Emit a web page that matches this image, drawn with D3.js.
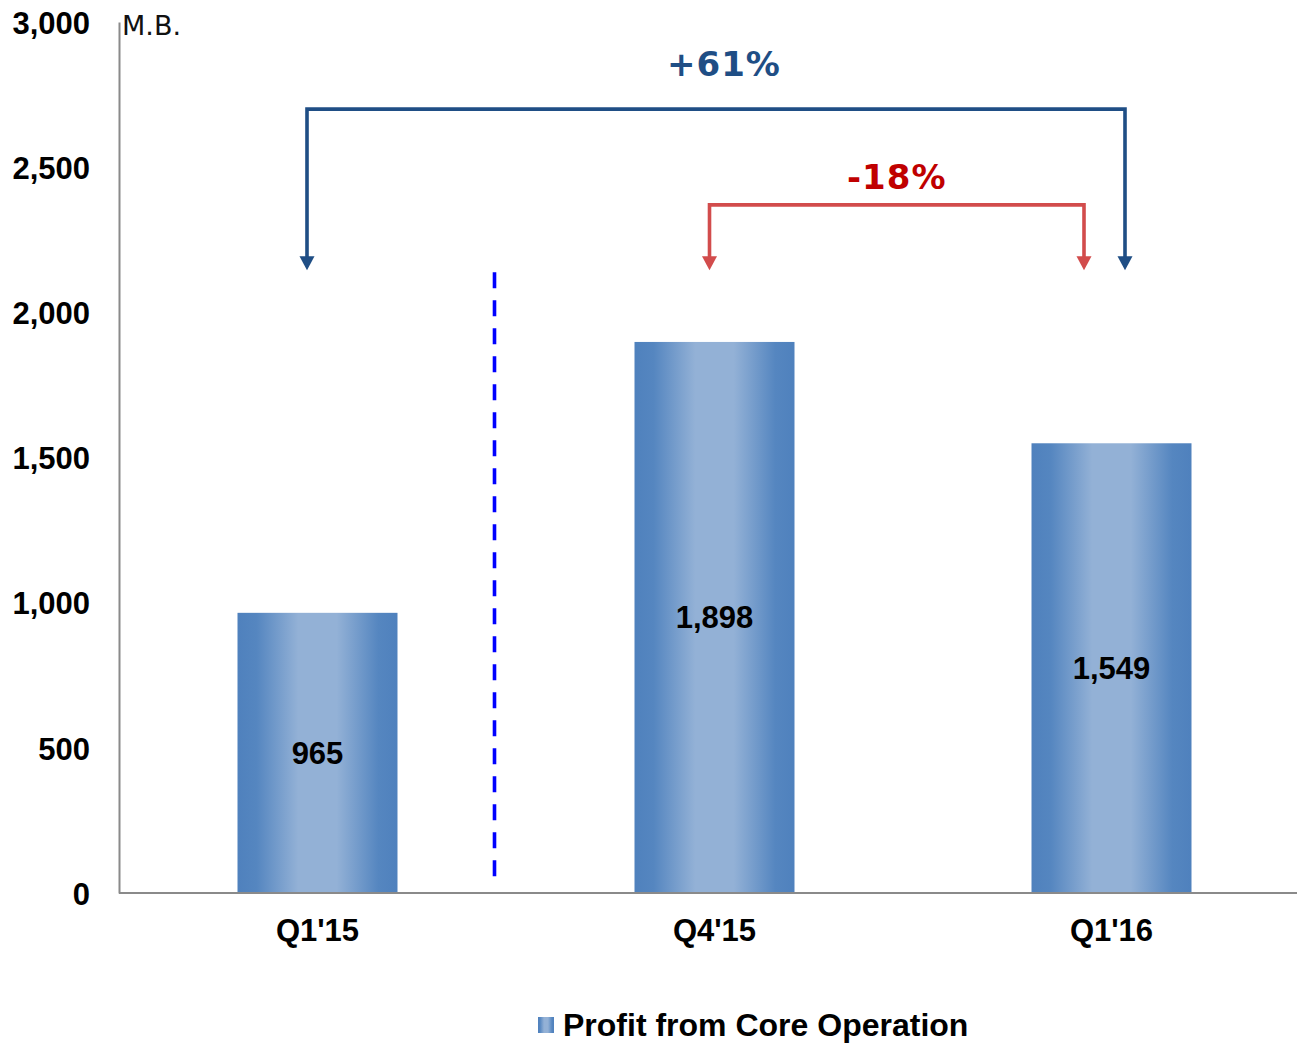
<!DOCTYPE html>
<html>
<head>
<meta charset="utf-8">
<script src="https://cdn.jsdelivr.net/npm/d3@7/dist/d3.min.js"></script>
<style>
  html, body { margin: 0; padding: 0; background: #ffffff; }
  svg { display: block; }
</style>
</head>
<body>
<svg id="chart" width="1297" height="1043"></svg>
<script>
// Quarterly profit from core operation (million baht)
const categories = ["Q1'15", "Q4'15", "Q1'16"];
const profitValues = [965, 1898, 1549];
const yTicks = [0, 500, 1000, 1500, 2000, 2500, 3000];
const seriesName = "Profit from Core Operation";
const unitLabel = "M.B.";

const svg = d3.select("#chart");
const W = 1297, H = 1043;
const plotLeft = 119, plotBottom = 893, plotTop = 22;

const x = d3.scaleBand()
  .domain(categories)
  .range([plotLeft, plotLeft + 397 * categories.length])
  .paddingInner(0.597)
  .paddingOuter(0.2985);

const y = d3.scaleLinear().domain([0, 3000]).range([plotBottom, plotTop]);

const fmt = d3.format(",");
const center = c => x(c) + x.bandwidth() / 2;

// Horizontal gradient used for the bars and the legend swatch
const defs = svg.append("defs");
const grad = defs.append("linearGradient")
  .attr("id", "barGrad").attr("x1", "0%").attr("x2", "100%").attr("y1", "0%").attr("y2", "0%");
[
  [0, "#4f81bd"], [0.12, "#5586c0"], [0.38, "#93b1d6"], [0.62, "#93b1d6"],
  [0.88, "#5586c0"], [1, "#4f81bd"]
].forEach(([o, c]) => grad.append("stop").attr("offset", o).attr("stop-color", c));

const boldSans = "'Liberation Sans', Arial, sans-serif";

// Bars
svg.append("g").selectAll("rect")
  .data(categories)
  .join("rect")
  .attr("x", d => x(d))
  .attr("width", x.bandwidth())
  .attr("y", (d, i) => y(profitValues[i]))
  .attr("height", (d, i) => y(0) - y(profitValues[i]))
  .attr("fill", "url(#barGrad)");

// Value labels, centred in each bar
svg.append("g").selectAll("text")
  .data(categories)
  .join("text")
  .attr("x", d => center(d))
  .attr("y", (d, i) => (y(profitValues[i]) + y(0)) / 2 + 11)
  .attr("text-anchor", "middle")
  .attr("font-family", boldSans)
  .attr("font-weight", "bold")
  .attr("font-size", 31)
  .attr("fill", "#000")
  .text((d, i) => fmt(profitValues[i]));

// Axes
const axisColor = "#8a8a8a";
const yAxis = svg.append("g")
  .attr("transform", `translate(${plotLeft},0)`)
  .call(d3.axisLeft(y).tickValues(yTicks).tickSize(0).tickPadding(29).tickFormat(fmt));
yAxis.select(".domain").attr("stroke", axisColor).attr("stroke-width", 2);
yAxis.selectAll("text")
  .attr("font-family", boldSans)
  .attr("font-weight", "bold")
  .attr("font-size", 31)
  .attr("fill", "#000")
  .attr("dy", "0.36em");

const xAxis = svg.append("g")
  .attr("transform", `translate(0,${plotBottom})`)
  .call(d3.axisBottom(x).tickSize(0).tickPadding(26));
xAxis.select(".domain").remove();
xAxis.selectAll("text")
  .attr("font-family", boldSans)
  .attr("font-weight", "bold")
  .attr("font-size", 31)
  .attr("fill", "#000")
  .attr("dy", "0.71em");
svg.append("line")
  .attr("x1", plotLeft).attr("x2", W)
  .attr("y1", plotBottom).attr("y2", plotBottom)
  .attr("stroke", axisColor).attr("stroke-width", 2);

// Unit label next to the top of the value axis
svg.append("text")
  .attr("x", plotLeft + 3).attr("y", y(3000) + 13)
  .attr("font-family", "'DejaVu Sans', Verdana, sans-serif")
  .attr("font-size", 27)
  .attr("fill", "#111")
  .text(unitLabel);

// Separator between the prior-year quarter and the recent quarters
svg.append("line")
  .attr("x1", center(categories[0]) + 177).attr("x2", center(categories[0]) + 177)
  .attr("y1", y(2138)).attr("y2", y(58))
  .attr("stroke", "#0000ff").attr("stroke-width", 3.6)
  .attr("stroke-dasharray", "16 12");

// Change brackets with arrowheads
function bracket(fromCat, toCat, dxFrom, dxTo, level, tipValue, color, label, labelColor, labelDx, labelDy) {
  const x1 = center(fromCat) + dxFrom, x2 = center(toCat) + dxTo;
  const yTop = y(level), yTip = y(tipValue);
  const head = 14;
  const g = svg.append("g");
  g.append("path")
    .attr("d", `M${x1},${yTip - head + 1}L${x1},${yTop}L${x2},${yTop}L${x2},${yTip - head + 1}`)
    .attr("fill", "none").attr("stroke", color).attr("stroke-width", 3.6)
    .attr("stroke-linejoin", "miter");
  [x1, x2].forEach(xx => {
    g.append("path")
      .attr("d", `M${xx - 7.5},${yTip - head}L${xx + 7.5},${yTip - head}L${xx},${yTip}Z`)
      .attr("fill", color);
  });
  g.append("text")
    .attr("x", (x1 + x2) / 2 + labelDx)
    .attr("y", yTop - labelDy)
    .attr("text-anchor", "middle")
    .attr("font-family", "'DejaVu Sans', Verdana, sans-serif")
    .attr("font-weight", "bold")
    .attr("font-size", 34)
    .attr("letter-spacing", 1)
    .attr("fill", labelColor)
    .text(label);
}

const pct = v => (v > 0 ? "+" : "-") + d3.format(".0f")(Math.abs(v) * 100) + "%";
const yoy = profitValues[2] / profitValues[0] - 1;
const qoq = profitValues[2] / profitValues[1] - 1;

bracket(categories[0], categories[2], -10.5, 13.5, 2700, 2145, "#1f4e85", pct(yoy), "#1f4e85", 8, 33);
bracket(categories[1], categories[2], -5, -27.5, 2370, 2145, "#d24c4c", pct(qoq), "#c00000", 0, 16);

// Legend
const legend = svg.append("g");
legend.append("rect")
  .attr("x", 538).attr("y", 1017).attr("width", 16).attr("height", 16)
  .attr("fill", "url(#barGrad)");
legend.append("text")
  .attr("x", 563).attr("y", 1036)
  .attr("font-family", boldSans)
  .attr("font-weight", "bold")
  .attr("font-size", 32)
  .attr("fill", "#000")
  .text(seriesName);
</script>
</body>
</html>
